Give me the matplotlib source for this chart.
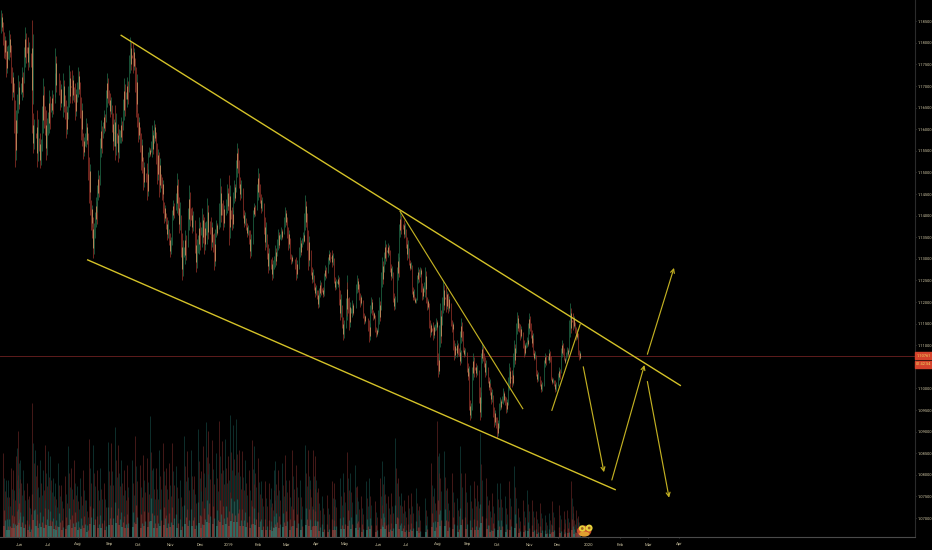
import matplotlib
matplotlib.use("Agg")
import matplotlib.pyplot as plt
from matplotlib.patches import Rectangle, Ellipse
import numpy as np

plt.rcParams['font.family'] = ['Roboto', 'DejaVu Sans']
plt.rcParams['text.hinting'] = 'none'

# x unit: days since 1 June 2018
price_days = [-18,-15,-13,-10,-7,-4,-1,3,6,9,13,14,18,21,24,27,30,33,37,42,45,48,51,54,57,60,63,65,68,71,73,75,78,80,83,86,89,92,95,97,100,103,106,109,113,116,119,121,124,126,130,132,135,137,140,142,145,147,150,153,156,160,162,165,168,172,175,179,182,186,188,191,195,198,200,204,207,211,213,216,218,221,224,228,231,234,238,242,245,249,252,256,260,263,266,270,273,276,281,285,288,290,293,
297,300,303,305,308,310,314,317,320,323,325,328,332,335,338,343,346,350,355,357,359,362,365,368,371,374,377,380,384,386,390,393,396,399,401,404,407,409,412,414,417,420,423,425,427,430,433,435,439,441,444,447,448,451,455,457,460,463,467,469,472,476,478,482,485,488,491,494,497,500,502,505,508,512,515,517,520,522,525,529,533,537,540,543,547,550,553,556,559,562,565,568]
price_high = [1.1876,1.1826,1.1806,1.1830,1.1745,1.1667,1.1725,1.1745,1.1837,1.1814,1.1853,1.1637,1.1644,1.1590,1.1718,1.1644,1.1691,1.1691,1.1787,1.1714,1.1729,1.1667,1.1748,1.1737,1.1706,1.1745,1.1675,1.1590,1.1625,1.1536,1.1436,1.1397,1.1444,1.1505,1.1621,1.1644,1.1729,1.1683,1.1637,1.1656,1.1613,1.1629,1.1718,1.1721,1.1814,1.1799,1.1745,1.1637,1.1590,1.1536,1.1521,1.1559,1.1609,1.1621,1.1567,1.1548,1.1490,1.1432,1.1397,1.1359,1.1436,1.1498,1.1444,1.1359,1.1366,1.1471,1.1420,1.1359,1.1397,1.1417,1.1397,1.1440,1.1397,1.1359,1.1389,1.1486,1.1436,1.1474,1.1494,1.1420,1.1482,1.1567,1.1490,1.1413,1.1382,1.1366,1.1428,1.1509,1.1451,1.1397,1.1335,1.1305,1.1332,1.1370,1.1374,1.1420,1.1374,1.1312,1.1305,1.1351,1.1362,1.1447,1.1366,
1.1282,1.1243,1.1228,1.1251,1.1235,1.1285,1.1320,1.1320,1.1258,1.1262,1.1228,1.1166,1.1262,1.1212,1.1204,1.1262,1.1220,1.1174,1.1158,1.1212,1.1181,1.1143,1.1212,1.1305,1.1343,1.1336,1.1289,1.1220,1.1313,1.1409,1.1390,1.1351,1.1297,1.1235,1.1212,1.1282,1.1282,1.1243,1.1282,1.1212,1.1158,1.1154,1.1162,1.1081,1.1197,1.1251,1.1235,1.1220,1.1158,1.1112,1.1112,1.1096,1.1162,1.1096,1.1058,1.0973,1.1081,1.1058,1.1004,1.1104,1.1073,1.1027,1.1004,1.0957,1.0934,1.0981,1.1000,1.0981,1.1058,1.1042,1.1112,1.1177,1.1150,1.1112,1.1120,1.1174,1.1135,1.1089,1.1042,1.1019,1.1081,1.1092,1.1027,1.1019,1.1050,1.1112,1.1073,1.1096,1.1197,1.1174,1.1143,1.1089]
price_low = [1.1822,1.1764,1.1721,1.1760,1.1667,1.1513,1.1637,1.1667,1.1745,1.1737,1.1637,1.1544,1.1513,1.1509,1.1590,1.1528,1.1590,1.1629,1.1675,1.1644,1.1629,1.1579,1.1652,1.1660,1.1621,1.1675,1.1575,1.1532,1.1559,1.1428,1.1366,1.1301,1.1374,1.1436,1.1536,1.1590,1.1652,1.1629,1.1552,1.1528,1.1525,1.1567,1.1621,1.1652,1.1729,1.1729,1.1629,1.1571,1.1505,1.1459,1.1436,1.1536,1.1536,1.1567,1.1474,1.1444,1.1436,1.1382,1.1343,1.1305,1.1389,1.1405,1.1359,1.1250,1.1289,1.1366,1.1359,1.1270,1.1312,1.1328,1.1312,1.1335,1.1320,1.1274,1.1351,1.1374,1.1366,1.1405,1.1332,1.1366,1.1428,1.1490,1.1436,1.1374,1.1351,1.1301,1.1397,1.1436,1.1405,1.1320,1.1266,1.1250,1.1281,1.1320,1.1343,1.1374,1.1320,1.1289,1.1250,1.1305,1.1335,1.1366,1.1274,
1.1243,1.1212,1.1185,1.1212,1.1212,1.1251,1.1289,1.1282,1.1228,1.1235,1.1158,1.1112,1.1158,1.1135,1.1166,1.1220,1.1189,1.1150,1.1108,1.1174,1.1158,1.1120,1.1150,1.1235,1.1289,1.1305,1.1251,1.1181,1.1251,1.1351,1.1347,1.1297,1.1274,1.1204,1.1197,1.1243,1.1258,1.1204,1.1212,1.1181,1.1120,1.1112,1.1135,1.1027,1.1096,1.1174,1.1177,1.1174,1.1131,1.1065,1.1073,1.1054,1.1104,1.1073,1.1019,1.0927,1.1019,1.1027,1.0927,1.1058,1.1027,1.0996,1.0965,1.0911,1.0884,1.0950,1.0965,1.0942,1.0996,1.1004,1.1050,1.1127,1.1112,1.1073,1.1096,1.1127,1.1096,1.1065,1.1015,1.0992,1.1050,1.1058,1.1011,1.0992,1.1019,1.1073,1.1058,1.1073,1.1120,1.1135,1.1112,1.1065]

vol_days = [-16,-13,-11,-8,-6,-3,-2,-1,1,4,8,10,13,16,18,21,24,26,29,31,34,37,40,43,47,50,53,56,59,62,65,68,71,75,79,82,86,90,93,97,100,103,106,109,115,118,123,126,130,133,136,139,142,146,149,152,155,159,163,167,170,174,177,181,184,187,190,192,196,200,203,206,209,212,214,217,220,223,226,229,233,236,238,242,245,249,253,255,258,260,263,267,270,274,277,281,285,290,293,295,298,300,303,307,312,317,319,325,328,333,336,341,343,347,352,355,361,366,368,370,374,377,381,384,387,390,394,397,402,405,412,418,421,424,426,431,434,439,444,447,452,457,461,464,467,473,476,480,485,488,493,497,502,506,511,515,520,524,528,533,537,540,547,552,556,560,562,565,567]
vol_vals = [84,57,57,69,67,81,89,106,77,67,54,41,134,87,72,77,67,92,86,81,59,54,74,52,61,91,69,77,51,59,67,37,98,92,67,69,54,95,94,110,92,77,67,72,77,101,72,82,79,121,69,69,87,94,69,74,94,71,57,101,86,87,61,108,66,91,115,106,97,84,116,96,98,81,122,112,118,87,86,77,67,97,91,79,56,56,54,49,67,76,67,74,82,57,87,72,57,92,87,57,87,81,49,41,42,56,54,59,64,85,64,72,51,41,56,59,36,59,76,61,41,44,99,59,44,37,42,44,49,31,39,74,49,116,84,86,49,64,39,91,64,52,56,52,104,59,37,44,54,54,41,56,71,29,37,47,37,26,34,22,24,36,32,26,27,56,24,27,21]
vol_up = [0,1,1,0,0,0,1,0,1,1,0,0,0,1,0,1,1,0,1,1,1,1,1,0,0,1,0,0,1,1,0,1,0,1,0,1,0,1,0,1,0,1,0,0,1,0,0,0,0,1,1,0,1,0,0,0,0,1,1,1,0,1,0,1,0,0,1,0,0,1,0,0,1,0,1,1,1,0,0,1,0,0,1,0,1,0,0,1,1,1,0,1,0,0,0,0,1,1,0,1,0,0,0,1,0,0,0,1,1,0,1,1,0,0,1,1,0,0,1,1,0,0,1,0,1,0,0,0,1,0,1,0,1,0,1,1,0,0,1,1,0,1,0,0,1,0,0,0,1,1,1,0,1,0,0,1,0,0,0,1,1,0,0,0,0,0,1,0,0]

y_ticks = [1.185,1.18,1.175,1.17,1.165,1.16,1.155,1.15,1.145,1.14,1.135,1.13,1.125,1.12,1.115,1.11,1.10,1.095,1.09,1.085,1.08,1.075,1.07]
x_tick_days = [0,29,60,92,121,153,184,212,242,271,301,330,364,392,424,455,485,517,546,577,609,638,669]
x_tick_labels = ['Jun','Jul','Aug','Sep','Oct','Nov','Dec','2019','Feb','Mar','Apr','May','Jun','Jul','Aug','Sep','Oct','Nov','Dec','2020','Feb','Mar','Apr']

last_price = 1.1076
channel_upper = ([103,671],[1.1818,1.1006])
channel_lower = ([69,605],[1.1298,1.0765])
trend_down = ([386,511],[1.1411,1.0952])
trend_up = ([540,569],[1.0948,1.1149])
arrows = [((572,1.1050),(593,1.0806)),
          ((601,1.0788),(634,1.1054)),
          ((637,1.1016),(659,1.0747)),
          ((637,1.1079),(664,1.1279))]

W, H = 932, 550
fig = plt.figure(figsize=(W/100, H/100), dpi=100, facecolor='black')
rect = [0, (H-537)/H, 914.5/W, 537/H]
XLIM = (-19.26, 907.8)

# volume pane, underneath
av = fig.add_axes(rect, facecolor='black')
av.set_xlim(*XLIM); av.set_ylim(0, 537); av.axis('off')
vd = np.array(vol_days, float); vv = np.array(vol_vals, float); vu = np.array(vol_up, bool)
RED, GRN = '#5c2220', '#123f3a'
cols = np.where(vu, GRN, RED)
av.vlines(vd, 0, vv, colors=cols, lw=0.65, alpha=0.8)
av.vlines(vd+1, 0, vv*0.7, colors=np.where(vu, RED, GRN), lw=0.65, alpha=0.7)
av.vlines(vd+2, 0, vv*0.55, colors=cols, lw=0.65, alpha=0.7)
av.vlines(vd+0.5, 0, vv*0.32, colors=np.where(vu, '#1f5c54', '#6e2c29'), lw=0.9, alpha=0.8)
av.vlines(vd+2, 0, vv*0.2, colors=np.where(vu, '#7a3532', '#28635b'), lw=0.9, alpha=0.8)
av.vlines(vd+1, 0, vv*0.13, colors=np.where(vu, '#37786e', '#8a3f3a'), lw=1.2, alpha=0.85)

# mascot icon at the end of the volume bars
av.add_patch(Ellipse((573, 6), 13, 9.5, color='#c8502c', zorder=5))
av.add_patch(Ellipse((573, 3), 9, 3.5, color='#e0a030', zorder=6))
av.add_patch(Ellipse((571, 8.5), 5.5, 5, color='#e8d23c', zorder=6))
av.add_patch(Ellipse((578, 9), 5.5, 5.5, color='#e8d23c', zorder=6))
av.add_patch(Ellipse((571, 8.5), 1.4, 1.4, color='#a06020', zorder=7))
av.add_patch(Ellipse((578, 9), 1.4, 1.4, color='#a06020', zorder=7))

# price pane
ax = fig.add_axes(rect, facecolor='none')
ax.set_xlim(*XLIM); ax.set_ylim(1.0656, 1.1899)
for s in ['left','top']:
    ax.spines[s].set_visible(False)
ax.spines['right'].set_color('#2b2b2b'); ax.spines['right'].set_linewidth(0.8)
ax.spines['bottom'].set_color('#4a4a4a'); ax.spines['bottom'].set_linewidth(0.8)

d = np.array(price_days, float); hi = np.array(price_high); lo = np.array(price_low)
mid = (hi + lo)/2
up = np.r_[True, mid[1:] >= mid[:-1]]
rc, gc = '#8c2f26', '#1f6645'
ax.vlines(d, lo, hi, colors=np.where(up, gc, rc), lw=0.55, zorder=2)
ax.vlines(d+1, lo+(hi-lo)*0.1, hi-(hi-lo)*0.15, colors=np.where(up, rc, gc), lw=0.55, zorder=2)
ax.vlines(d+0.5, lo+(hi-lo)*0.25, hi-(hi-lo)*0.3, colors='#b88458', lw=0.7, zorder=3)
# joins between readings so the trace stays continuous
ax.vlines(d[1:]-1, np.minimum(mid[1:], mid[:-1]), np.maximum(mid[1:], mid[:-1]),
          colors=np.where(up[1:], gc, rc), lw=0.55, zorder=2)

ax.axhline(last_price, color='#5e1c1c', lw=0.7, zorder=1)

YEL = '#c2b022'
for xs, ys in (channel_upper, channel_lower):
    ax.plot(xs, ys, color='#d4c228', lw=1.0, zorder=6, solid_capstyle='butt')
for xs, ys in (trend_down, trend_up):
    ax.plot(xs, ys, color=YEL, lw=0.85, zorder=6, solid_capstyle='butt')
for a, b in arrows:
    ax.annotate('', xy=b, xytext=a, zorder=6,
                arrowprops=dict(arrowstyle='->,head_length=0.28,head_width=0.14', color=YEL,
                                lw=0.85, shrinkA=0, shrinkB=0))

ax.yaxis.tick_right()
ax.set_yticks(y_ticks)
ax.set_yticklabels([f'{v:.5f}' for v in y_ticks], fontsize=2.85, color='#cfc6a4')
ax.set_xticks(x_tick_days)
ax.set_xticklabels(x_tick_labels, fontsize=3.1, color='#cfc6a4')
ax.tick_params(axis='y', length=1.0, width=0.4, color='#777777', pad=1.4)
ax.tick_params(axis='x', length=1.0, width=0.4, color='#777777', pad=3.0)

# last price tags on the scale
for top, bot, label in [(351.7, 359.4, '1.10761'), (360.6, 368.0, '01:42:54')]:
    fig.add_artist(Rectangle((915/W, 1-bot/H), 17/W, (bot-top)/H, transform=fig.transFigure,
                             color='#d5432c', zorder=10))
    fig.text(923.5/W, 1-(top+bot)/2/H, label, fontsize=2.85, color='#f0d860', ha='center',
             va='center', zorder=11)

fig.savefig('out.png', dpi=100, facecolor='black')
